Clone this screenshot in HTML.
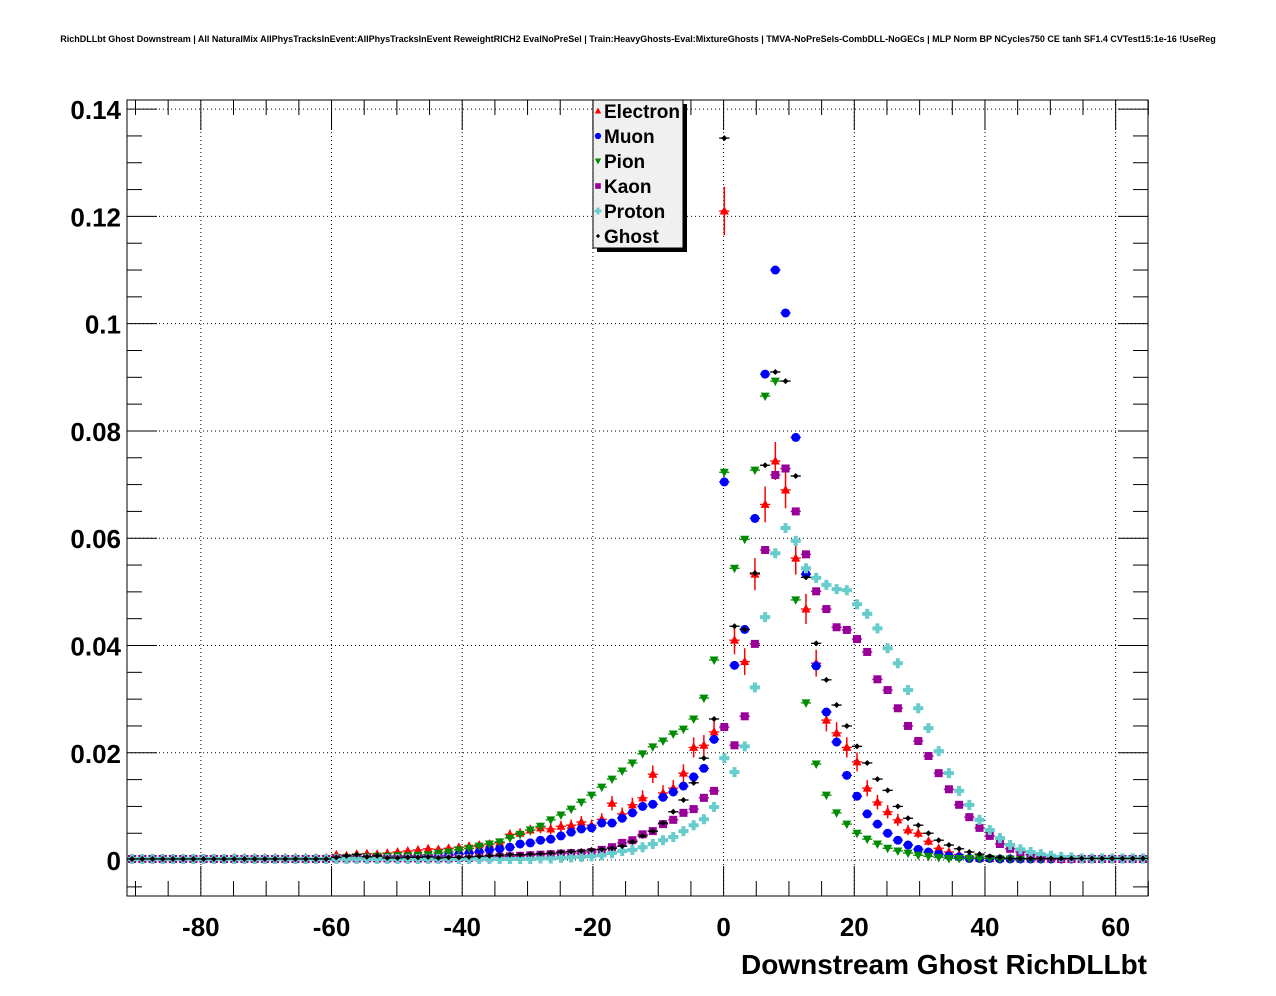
<!DOCTYPE html>
<html><head><meta charset="utf-8"><style>
html,body{margin:0;padding:0;background:#fff;}
svg{display:block;font-family:"Liberation Sans",sans-serif;}
</style></head><body>
<svg id="chart" width="1276" height="996" viewBox="0 0 1276 996" xmlns="http://www.w3.org/2000/svg">
<rect x="0" y="0" width="1276" height="996" fill="#fff"/>
<text x="638" y="42" font-size="9" font-weight="bold" text-anchor="middle">RichDLLbt Ghost Downstream | All NaturalMix AllPhysTracksInEvent:AllPhysTracksInEvent ReweightRICH2 EvalNoPreSel | Train:HeavyGhosts-Eval:MixtureGhosts | TMVA-NoPreSels-CombDLL-NoGECs | MLP Norm BP NCycles750 CE tanh SF1.4 CVTest15:1e-16 !UseReg</text>
<g id="grid"></g>
<g id="axes"></g>
<g id="marks"></g>
<rect x="127" y="100" width="1021" height="796" fill="none" stroke="#000" stroke-width="1"/>
<text x="1147" y="974" font-size="28" font-weight="bold" text-anchor="end">Downstream Ghost RichDLLbt</text>
<g>
<rect x="597" y="104" width="90" height="148" fill="#000"/>
<rect x="593" y="100" width="90" height="148" fill="#f0f0f0" stroke="#000" stroke-width="1"/>
<g id="legend-items"></g>
</g>
</svg>
<script>
const xMin=-91.3, xMax=64.95, yMin=-0.0067, yMax=0.1417;
const nBins=100, binW=(xMax-xMin)/nBins;
const seriesNames=["Electron","Muon","Pion","Kaon","Proton","Ghost"];
const xTicks=[-80,-60,-40,-20,0,20,40,60];
const yTicks=[0,0.02,0.04,0.06,0.08,0.1,0.12,0.14];
const yTickLabels=["0","0.02","0.04","0.06","0.08","0.1","0.12","0.14"];

const electron=[0.0003,0.0003,0.0003,0.0003,0.0003,0.0003,0.0003,0.0003,0.0003,0.0003,
0.0004,0.0004,0.0004,0.0004,0.0004,0.0004,0.0004,0.0004,0.0004,0.0004,
0.0010,0.0008,0.0011,0.0012,0.0011,0.0013,0.0015,0.0017,0.0019,0.0021,
0.0020,0.0022,0.0024,0.0026,0.0028,0.0030,0.0032,0.0048,0.0050,0.0056,
0.0060,0.0058,0.0063,0.0065,0.0071,0.0065,0.0076,0.0106,0.0086,0.0103,
0.0116,0.0160,0.0125,0.0134,0.0162,0.0210,0.0214,0.0239,0.121,0.041,
0.037,0.0533,0.0663,0.0744,0.069,0.0563,0.0468,0.0367,0.0261,0.0237,
0.021,0.0183,0.0134,0.0108,0.009,0.0075,0.0056,0.005,0.0035,0.0022,
0.0015,0.001,0.0006,0.0003,0.0003,0.0003,0.0003,0.0002,0.0002,0.0002,
0.0002,0.0002,0.0002,0.0002,0.0002,0.0002,0.0002,0.0002,0.0002,0.0002];
const muon=[0.0002,0.0002,0.0002,0.0002,0.0002,0.0002,0.0002,0.0002,0.0002,0.0002,
0.0002,0.0002,0.0002,0.0002,0.0002,0.0002,0.0002,0.0002,0.0002,0.0002,
0.0003,0.0003,0.0004,0.0004,0.0005,0.0005,0.0006,0.0006,0.0007,0.0007,
0.0007,0.0009,0.0011,0.0013,0.0015,0.0019,0.0021,0.0024,0.0030,0.0032,
0.0037,0.0039,0.0045,0.0052,0.0058,0.0060,0.0069,0.0069,0.0078,0.0088,
0.0100,0.0104,0.0117,0.0127,0.0138,0.0155,0.0171,0.0225,0.0705,0.0363,
0.043,0.0637,0.0906,0.110,0.102,0.0788,0.0533,0.0362,0.0276,0.022,
0.0158,0.0119,0.0086,0.0067,0.005,0.0037,0.0028,0.002,0.0015,0.0011,
0.0008,0.0006,0.0003,0.0003,0.0003,0.0002,0.0002,0.0002,0.0002,0.0002,
0.0002,0.0002,0.0002,0.0002,0.0002,0.0002,0.0002,0.0002,0.0002,0.0002];
const pion=[0.0003,0.0003,0.0003,0.0003,0.0003,0.0003,0.0003,0.0003,0.0003,0.0003,
0.0003,0.0003,0.0003,0.0003,0.0003,0.0003,0.0003,0.0003,0.0003,0.0003,
0.0005,0.0005,0.0006,0.0006,0.0007,0.0007,0.0008,0.0008,0.0009,0.0010,
0.0013,0.0015,0.0019,0.0022,0.0026,0.0030,0.0034,0.0041,0.0048,0.0056,
0.0063,0.0075,0.0084,0.0095,0.0108,0.0121,0.0136,0.0151,0.0166,0.0181,
0.0198,0.0211,0.0222,0.0235,0.0244,0.0263,0.0302,0.0373,0.0723,0.0544,
0.0598,0.0727,0.0865,0.0893,0.073,0.0485,0.0293,0.0179,0.0121,0.0088,
0.0067,0.005,0.0039,0.003,0.0022,0.0017,0.0013,0.0009,0.0007,0.0005,
0.0003,0.0003,0.0003,0.0003,0.0003,0.0002,0.0002,0.0002,0.0002,0.0002,
0.0002,0.0002,0.0002,0.0002,0.0002,0.0002,0.0002,0.0002,0.0002,0.0002];
const kaon=[0.0002,0.0002,0.0002,0.0002,0.0002,0.0002,0.0002,0.0002,0.0002,0.0002,
0.0002,0.0002,0.0002,0.0002,0.0002,0.0002,0.0002,0.0002,0.0002,0.0002,
0.0003,0.0003,0.0003,0.0003,0.0003,0.0003,0.0003,0.0003,0.0003,0.0003,
0.0003,0.0003,0.0004,0.0004,0.0005,0.0005,0.0006,0.0007,0.0008,0.0009,
0.0010,0.0011,0.0012,0.0013,0.0013,0.0015,0.0019,0.0024,0.0032,0.0037,
0.0048,0.0054,0.0067,0.0075,0.0088,0.0095,0.0116,0.0129,0.0248,0.0214,
0.0268,0.0403,0.0578,0.0718,0.073,0.065,0.057,0.0501,0.0468,0.0434,
0.0429,0.0412,0.0388,0.0337,0.0317,0.0283,0.025,0.0222,0.0194,0.0162,
0.0132,0.0103,0.008,0.006,0.0045,0.003,0.0021,0.0015,0.001,0.0006,
0.0004,0.0002,0.0002,0.0002,0.0002,0.0002,0.0002,0.0002,0.0002,0.0002];
const proton=[0.0002,0.0002,0.0002,0.0002,0.0002,0.0002,0.0002,0.0002,0.0002,0.0002,
0.0002,0.0002,0.0002,0.0002,0.0002,0.0002,0.0002,0.0002,0.0002,0.0002,
0.0002,0.0002,0.0002,0.0002,0.0002,0.0002,0.0002,0.0002,0.0002,0.0002,
0.0002,0.0002,0.0002,0.0002,0.0002,0.0002,0.0002,0.0002,0.0002,0.0002,
0.0003,0.0003,0.0004,0.0005,0.0006,0.0007,0.0009,0.0013,0.0017,0.0019,
0.0024,0.003,0.0037,0.0043,0.0054,0.0065,0.0076,0.0099,0.019,0.0164,
0.0212,0.0322,0.0453,0.0572,0.0619,0.0595,0.0544,0.0526,0.0513,0.0505,
0.0503,0.0477,0.0459,0.0432,0.0395,0.0367,0.0317,0.0283,0.0246,0.0203,
0.0162,0.0129,0.0103,0.0075,0.0056,0.0041,0.0028,0.002,0.0015,0.0011,
0.0008,0.0006,0.0005,0.0003,0.0003,0.0003,0.0003,0.0003,0.0003,0.0003];
const ghost=[0.0002,0.0002,0.0002,0.0002,0.0002,0.0002,0.0002,0.0002,0.0002,0.0002,
0.0002,0.0002,0.0002,0.0002,0.0002,0.0002,0.0002,0.0002,0.0002,0.0002,
0.0005,0.0008,0.0010,0.0006,0.0008,0.0004,0.0004,0.0005,0.0005,0.0006,
0.0004,0.0005,0.0005,0.0006,0.0007,0.0008,0.0009,0.0010,0.0010,0.0011,
0.0012,0.0013,0.0015,0.0016,0.0017,0.0019,0.0020,0.0022,0.0026,0.0034,
0.0045,0.0054,0.0069,0.009,0.0112,0.0144,0.019,0.0263,0.1346,0.0436,
0.043,0.0535,0.0736,0.091,0.0893,0.0716,0.0527,0.0404,0.0336,0.0289,
0.025,0.0212,0.0181,0.0151,0.013,0.010,0.0078,0.0065,0.005,0.0037,
0.0028,0.0021,0.0015,0.0011,0.0007,0.0005,0.0003,0.0003,0.0003,0.0003,
0.0003,0.0003,0.0003,0.0003,0.0003,0.0003,0.0003,0.0003,0.0003,0.0003];

const PL=127,PR=1148,PT=100,PB=896;
const sx=v=>PL+(v-xMin)/(xMax-xMin)*(PR-PL);
const sy=v=>PB-(v-yMin)/(yMax-yMin)*(PB-PT);
const NS="http://www.w3.org/2000/svg";
function mk(tag,attrs,parent){const e=document.createElementNS(NS,tag);for(const k in attrs)e.setAttribute(k,attrs[k]);parent.appendChild(e);return e;}
const grid=document.getElementById('grid'),axes=document.getElementById('axes'),marks=document.getElementById('marks');

xTicks.forEach(t=>{const x=sx(t);
 const g=mk('line',{x1:x,x2:x,y1:PT,y2:PB,stroke:'#000','stroke-width':1,'stroke-dasharray':'1,3'},grid);
 
 
 mk('line',{x1:x,x2:x,y1:PB,y2:PB-30,stroke:'#000'},axes);
 mk('line',{x1:x,x2:x,y1:PT,y2:PT+30,stroke:'#000'},axes);
 const lb=mk('text',{x:x,y:936,'font-size':26,'font-weight':'bold','text-anchor':'middle'},axes);
 lb.textContent=t;
 
 
});
for(let t=-90;t<=65;t+=5){if(t%20===0)continue;const x=sx(t);
 mk('line',{x1:x,x2:x,y1:PB,y2:PB-15,stroke:'#000'},axes);
 mk('line',{x1:x,x2:x,y1:PT,y2:PT+15,stroke:'#000'},axes);}
yTicks.forEach((t,i)=>{const y=sy(t);
 const g=mk('line',{x1:PL,x2:PR,y1:y,y2:y,stroke:'#000','stroke-width':1,'stroke-dasharray':'1,3'},grid);
 
 
 mk('line',{x1:PL,x2:PL+30,y1:y,y2:y,stroke:'#000'},axes);
 mk('line',{x1:PR,x2:PR-30,y1:y,y2:y,stroke:'#000'},axes);
 const lb=mk('text',{x:121,y:y+10,'font-size':26,'font-weight':'bold','text-anchor':'end'},axes);
 lb.textContent=yTickLabels[i];
 
 
});
for(let t=-0.005;t<=0.141;t+=0.005){if(Math.abs(Math.round(t/0.02)*0.02-t)<1e-6)continue;const y=sy(t);
 mk('line',{x1:PL,x2:PL+15,y1:y,y2:y,stroke:'#000'},axes);
 mk('line',{x1:PR,x2:PR-15,y1:y,y2:y,stroke:'#000'},axes);}

const colors=["#ff0000","#0000ff","#008c00","#990099","#66cccc","#000000"];
const errK=[0.013,0.0022,0.0012,0.0012,0.0012,0.001];
const data=[electron,muon,pion,kaon,proton,ghost];
function marker(kind,x,y,c,parent){
 if(kind===0) return mk('polygon',{points:`${x},${y-5} ${x-4.5},${y+3.5} ${x+4.5},${y+3.5}`,fill:c},parent);
 if(kind===1) return mk('circle',{cx:x,cy:y,r:4.5,fill:c},parent);
 if(kind===2) return mk('polygon',{points:`${x},${y+5} ${x-4.5},${y-3.5} ${x+4.5},${y-3.5}`,fill:c},parent);
 if(kind===3) return mk('rect',{x:x-4,y:y-4,width:8,height:8,fill:c},parent);
 if(kind===4) return mk('path',{d:`M${x-5},${y-2}h3v-3h4v3h3v4h-3v3h-4v-3h-3z`,fill:c},parent);
 return mk('polygon',{points:`${x},${y-3} ${x-3},${y} ${x},${y+3} ${x+3},${y}`,fill:c},parent);
}
data.forEach((arr,s)=>{
 const g=mk('g',{},marks);
 
 
 arr.forEach((v,i)=>{
  const cx=xMin+(i+0.5)*binW;
  const x=sx(cx),y=sy(v);
  if(y<PT||y>PB)return;
  const e=errK[s]*Math.sqrt(v);
  mk('line',{x1:sx(cx-binW/2),x2:sx(cx+binW/2),y1:y,y2:y,stroke:colors[s],'stroke-width':1.3},g);
  if(sy(v-e)-sy(v+e)>2) mk('line',{x1:x,x2:x,y1:sy(v+e),y2:sy(v-e),stroke:colors[s],'stroke-width':1.5},g);
  const m=marker(s,x,y,colors[s],g);
  
  
 });
});
const li=document.getElementById('legend-items');
seriesNames.forEach((n,s)=>{
 const y=111+s*25;
 const g=mk('g',{},li);
 
 
 marker(s,598,y,colors[s],g).setAttribute('transform',`translate(${598*0.3},${y*0.3}) scale(0.7)`);
 const t=mk('text',{x:604,y:y+7,'font-size':19,'font-weight':'bold'},g);
 t.textContent=n;
});
</script>
</body></html>
